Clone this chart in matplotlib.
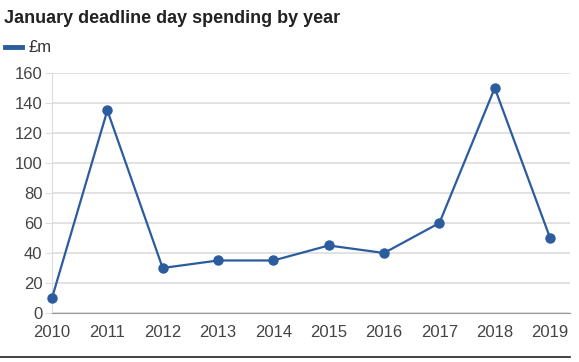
import matplotlib.pyplot as plt
from matplotlib.lines import Line2D

plt.rcParams["font.family"] = ["Liberation Sans", "DejaVu Sans"]

years = [2010, 2011, 2012, 2013, 2014, 2015, 2016, 2017, 2018, 2019]
spending = [10, 135, 30, 35, 35, 45, 40, 60, 150, 50]
y_ticks = [0, 20, 40, 60, 80, 100, 120, 140, 160]

line_color = "#2b5c9e"

fig = plt.figure(figsize=(5.79, 3.62), dpi=100)
ax = fig.add_axes([0.0898, 0.1354, 0.8947, 0.663])

ax.plot(years, spending, color=line_color, linewidth=1.6, marker="o",
        markersize=6.5, zorder=3, clip_on=False)

ax.set_xlim(2010, 2019.36)
ax.set_ylim(0, 160)
ax.set_xticks(years)
ax.set_yticks(y_ticks)
ax.grid(axis="y", color="#dddddd", linewidth=1.2)
ax.set_axisbelow(True)

for side in ["top", "right"]:
    ax.spines[side].set_visible(False)
ax.spines["left"].set_color("#dddddd")
ax.spines["bottom"].set_color("#999999")
ax.tick_params(axis="x", length=0, pad=9, labelsize=12, labelcolor="#444444")
ax.tick_params(axis="y", length=5, color="#dddddd", pad=2, labelsize=12,
               labelcolor="#444444")

# title and legend
fig.text(0.007, 0.948, "January deadline day spending by year", fontsize=13,
         fontweight="bold", color="#222222", va="center")
fig.add_artist(Line2D([0.009, 0.038], [0.870, 0.870], color=line_color,
                      linewidth=3.5, transform=fig.transFigure))
fig.text(0.050, 0.870, "£m", fontsize=12, color="#333333", va="center")

# bottom rule
fig.add_artist(Line2D([0.0, 0.985], [0.014, 0.014], color="#222222",
                      linewidth=1.2, transform=fig.transFigure))

plt.savefig("out.png", dpi=100)
